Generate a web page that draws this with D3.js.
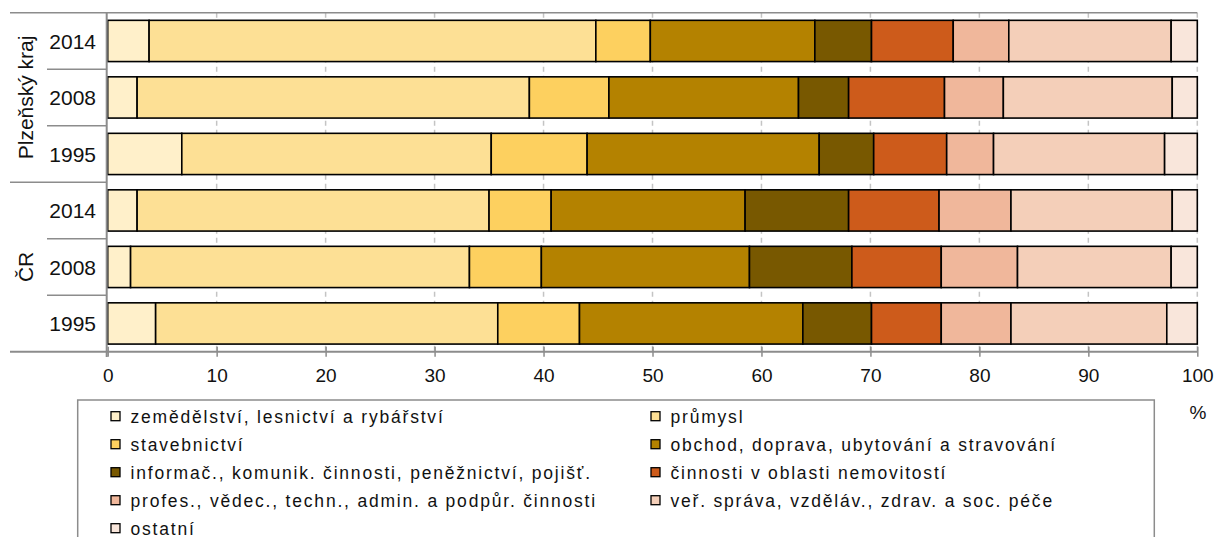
<!DOCTYPE html>
<html><head><meta charset="utf-8">
<script src="https://cdn.jsdelivr.net/npm/d3@7/dist/d3.min.js"></script>
<style>body{margin:0;background:#fff}svg{display:block;font-family:"Liberation Sans",Arial,sans-serif}</style>
</head><body><svg id="c" width="1217" height="537"></svg>
<script>
const groups = ["Plzeňský kraj","Plzeňský kraj","Plzeňský kraj","ČR","ČR","ČR"];
const years = ["2014","2008","1995","2014","2008","1995"];
const seriesNames = [
 "zemědělství, lesnictví a rybářství","průmysl","stavebnictví",
 "obchod, doprava, ubytování a stravování",
 "informač., komunik. činnosti, peněžnictví, pojišť.",
 "činnosti v oblasti nemovitostí",
 "profes., vědec., techn., admin. a podpůr. činnosti",
 "veř. správa, vzděláv., zdrav. a soc. péče","ostatní"];
const colors = ["#FFF0CA","#FDE095","#FDD05F","#B48200","#785800","#CD5B1B","#F0B79B","#F4CFB9","#F9E6DB"];
// values per row (same order as years/groups), one entry per series
const agri   = [3.8, 2.7, 6.8, 2.7, 2.1, 4.4];
const indu   = [41.0,36.0,28.4,32.3,31.1,31.4];
const constr = [5.0, 7.3, 8.8, 5.7, 6.6, 7.5];
const trade  = [15.1,17.4,21.3,17.8,19.1,20.5];
const info   = [5.2, 4.6, 5.0, 9.5, 9.4, 6.3];
const realty = [7.5, 8.8, 6.7, 8.3, 8.2, 6.4];
const prof   = [5.1, 5.4, 4.3, 6.6, 7.0, 6.4];
const publ   = [14.9,15.5,15.7,14.8,14.1,14.3];
const other  = [2.4, 2.3, 3.0, 2.3, 2.4, 2.8];
const xTicks = [0,10,20,30,40,50,60,70,80,90,100];

const seriesVals = [agri,indu,constr,trade,info,realty,prof,publ,other];
const keys = seriesNames.map((d,i)=>"s"+i);
const rows = years.map((y,r)=>{const o={id:r,year:y,group:groups[r]};keys.forEach((k,i)=>o[k]=seriesVals[i][r]);return o;});

const svg = d3.select("#c");
const x = d3.scaleLinear().domain([0,100]).range([107.7,1197.3]);
const y = d3.scaleBand().domain(rows.map(d=>d.id)).range([12.7,351.7]).paddingInner(0.27).paddingOuter(0.135);
const gray="#8c8c8c";

// gridlines
svg.append("g").selectAll("line").data(xTicks.slice(1)).join("line")
 .attr("x1",d=>x(d)).attr("x2",d=>x(d)).attr("y1",12.7).attr("y2",351.7)
 .attr("stroke","#c4c4c4").attr("stroke-width",1.5).attr("stroke-dasharray","5,4");

// top border
svg.append("line").attr("x1",10).attr("x2",x(100)).attr("y1",12.7).attr("y2",12.7).attr("stroke",gray).attr("stroke-width",1.5);

// stacked bars
const stack = d3.stack().keys(keys)(rows);
svg.append("g").selectAll("g").data(stack).join("g")
 .attr("fill",(d,i)=>colors[i])
 .selectAll("rect").data(d=>d).join("rect")
 .attr("x",d=>x(d[0])).attr("width",d=>x(d[1])-x(d[0]))
 .attr("y",d=>y(d.data.id)).attr("height",y.bandwidth())
 .attr("stroke","#000").attr("stroke-width",1.6);

// x axis
const xAxis = d3.axisBottom(x).tickValues(xTicks).tickSize(5).tickPadding(12).tickFormat(d3.format("d"));
const ga = svg.append("g").attr("transform","translate(0,351.7)").call(xAxis);
ga.select(".domain").remove();
ga.selectAll(".tick line").attr("y1",-5).attr("y2",5).attr("stroke",gray).attr("stroke-width",1.5);
ga.selectAll(".tick text").attr("font-size",19).attr("fill","#111").attr("font-family","Liberation Sans, Arial, sans-serif");
svg.append("line").attr("x1",10).attr("x2",x(100)).attr("y1",351.7).attr("y2",351.7).attr("stroke",gray).attr("stroke-width",2);
svg.append("line").attr("x1",x(0)-1).attr("x2",x(0)-1).attr("y1",12.7).attr("y2",357).attr("stroke",gray).attr("stroke-width",2);

// category separators
const step = y.step();
rows.forEach((d,i)=>{
  if(i===0) return;
  const yy = 12.7 + i*step;
  const long = groups[i]!==groups[i-1];
  svg.append("line").attr("x1",long?10:47).attr("x2",x(0)-1).attr("y1",yy).attr("y2",yy).attr("stroke",gray).attr("stroke-width",1.5);
});

// year labels
svg.append("g").selectAll("text").data(rows).join("text")
 .attr("x",96).attr("y",d=>y(d.id)+y.bandwidth()/2).attr("dy","0.36em")
 .attr("text-anchor","end").attr("font-size",21).attr("fill","#111").text(d=>d.year);

// group labels
const gNames = Array.from(new Set(groups));
gNames.forEach(g=>{
  const idx = rows.filter(r=>r.group===g).map(r=>r.id);
  const cy = (12.7+idx[0]*step + 12.7+(idx[idx.length-1]+1)*step)/2;
  svg.append("text").attr("transform",`translate(25,${cy}) rotate(-90)`)
   .attr("text-anchor","middle").attr("dy","0.36em").attr("font-size",21).attr("fill","#111").text(g);
});

// % label
svg.append("text").attr("x",1198).attr("y",411.7).attr("dy","0.36em").attr("text-anchor","middle").attr("font-size",19).attr("fill","#111").text("%");

// legend
svg.append("rect").attr("x",77.7).attr("y",400).attr("width",1076.6).attr("height",160).attr("fill","none").attr("stroke",gray).attr("stroke-width",1.5);
const lg = svg.append("g").selectAll("g").data(seriesNames).join("g")
 .attr("transform",(d,i)=>`translate(${i%2===0?111:651},${416.2+Math.floor(i/2)*28})`);
lg.append("rect").attr("x",0).attr("y",-4.5).attr("width",9).attr("height",9)
 .attr("fill",(d,i)=>colors[i]).attr("stroke","#000").attr("stroke-width",1.3);
lg.append("text").attr("x",19.5).attr("dy","0.36em").attr("font-size",17.5).attr("letter-spacing","1.8px").attr("fill","#111").text(d=>d);
</script></body></html>
